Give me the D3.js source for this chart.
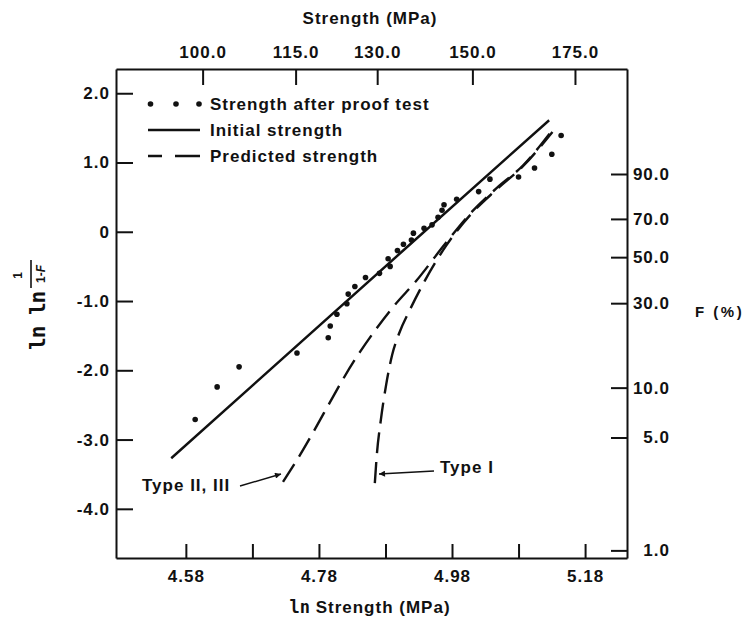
<!DOCTYPE html>
<html>
<head>
<meta charset="utf-8">
<script src="https://cdn.jsdelivr.net/npm/d3@7"></script>
<style>
  body { margin: 0; background: #fff; }
  svg text { font-family: "Liberation Sans", Arial, sans-serif; font-weight: bold; fill: #111; letter-spacing: 1px; font-size: 17px; }
  svg .mono { font-family: "DejaVu Sans Mono", monospace; font-weight: bold; letter-spacing: 0; }
</style>
</head>
<body>
<div id="chart"></div>
<script>
// Data: x = ln strength, y = ln ln 1/(1-F)
const lnTicks = [4.58, 4.68, 4.78, 4.88, 4.98, 5.08, 5.18];
const lnLabelled = [4.58, 4.78, 4.98, 5.18];
const leftTicks = [2, 1, 0, -1, -2, -3, -4];
const strengthTicks = [100, 115, 130, 150, 175];   // MPa, top axis
const fTicks = [90, 70, 50, 30, 10, 5, 1];         // F (%), right axis

const proofTest = [
    [4.594, -2.71], [4.627, -2.24], [4.660, -1.95], [4.747, -1.75],
    [4.794, -1.53], [4.797, -1.36], [4.807, -1.19], [4.822, -1.04],
    [4.824, -0.90], [4.834, -0.79], [4.850, -0.66], [4.871, -0.60],
    [4.884, -0.39], [4.887, -0.50], [4.898, -0.27], [4.907, -0.18],
    [4.919, -0.12], [4.922, -0.02], [4.938, 0.05], [4.950, 0.10],
    [4.959, 0.21], [4.965, 0.31], [4.968, 0.39], [4.987, 0.47],
    [5.020, 0.58], [5.037, 0.76], [5.080, 0.79], [5.104, 0.92],
    [5.130, 1.12], [5.144, 1.39]
];

const initialStrength = [
    [4.558, -3.27], [4.902, -0.31], [5.126, 1.61]
];

const predictedTypeII = [
    [4.726, -3.61], [4.744, -3.34], [4.842, -1.73], [4.892, -1.08],
    [4.927, -0.70], [4.970, -0.17], [5.010, 0.29], [5.047, 0.63],
    [5.087, 0.96], [5.130, 1.46]
];

const predictedTypeI = [
    [4.864, -3.63], [4.867, -3.22], [4.873, -2.72], [4.881, -2.21],
    [4.890, -1.78], [4.900, -1.48], [4.917, -1.12], [4.939, -0.71],
    [4.972, -0.19], [5.010, 0.27], [5.047, 0.61], [5.087, 0.95], [5.131, 1.44]
];

// Layout
const W = 744, H = 619;
const plot = { left: 116, right: 627, top: 69, bottom: 558 };

const svg = d3.select("#chart")
    .append("svg")
    .attr("width", W)
    .attr("height", H);

// Scales
const x = d3.scaleLinear()
    .domain([4.475, 5.243])
    .range([plot.left, plot.right]);

const y = d3.scaleLinear()
    .domain([-4.71, 2.35])
    .range([plot.bottom, plot.top]);

const fToY = f => Math.log(-Math.log(1 - f / 100));

// Axes
const bottomAxis = svg.append("g")
    .attr("transform", `translate(0,${plot.bottom})`)
    .call(d3.axisBottom(x)
        .tickValues(lnTicks)
        .tickSize(-14)
        .tickSizeOuter(0)
        .tickFormat(d => lnLabelled.includes(d) ? d.toFixed(2) : ""));
bottomAxis.selectAll("text").attr("y", 12);

const topAxis = svg.append("g")
    .attr("transform", `translate(0,${plot.top})`)
    .call(d3.axisTop(x)
        .tickValues(strengthTicks.map(Math.log))
        .tickSize(-16)
        .tickSizeOuter(0)
        .tickFormat((d, i) => strengthTicks[i].toFixed(1)));
topAxis.selectAll("text").attr("y", -11);

const leftAxis = svg.append("g")
    .attr("transform", `translate(${plot.left},0)`)
    .call(d3.axisLeft(y)
        .tickValues(leftTicks)
        .tickSize(-17)
        .tickSizeOuter(0)
        .tickFormat(d => d === 0 ? "0" : d.toFixed(1)));
leftAxis.selectAll("text").attr("x", -6);

const rightAxis = svg.append("g")
    .attr("transform", `translate(${plot.right},0)`)
    .call(d3.axisRight(y)
        .tickValues(fTicks.map(fToY))
        .tickSize(-16)
        .tickSizeOuter(0)
        .tickFormat((d, i) => fTicks[i].toFixed(1)));
rightAxis.selectAll("text")
    .attr("x", 43)
    .attr("text-anchor", "end");

svg.selectAll(".domain").attr("stroke", "#111").attr("stroke-width", 2);
svg.selectAll(".tick line").attr("stroke", "#111").attr("stroke-width", 2);
svg.selectAll(".tick text").attr("font-size", null).style("font-family", null);

// Axis titles
svg.append("text")
    .attr("x", 370)
    .attr("y", 24)
    .attr("text-anchor", "middle")
    .text("Strength (MPa)");

const xTitle = svg.append("text")
    .attr("x", 370)
    .attr("y", 613)
    .attr("text-anchor", "middle");
xTitle.append("tspan").attr("class", "mono").text("ln");
xTitle.append("tspan").text(" Strength (MPa)");

svg.append("text")
    .attr("x", 695)
    .attr("y", 317)
    .style("font-size", "15px")
    .style("letter-spacing", "2.5px")
    .text("F (%)");

// rotated left title: ln ln 1/(1-F)
const yTitle = svg.append("g")
    .attr("transform", "translate(45,350) rotate(-90)");
yTitle.append("text")
    .attr("class", "mono")
    .style("font-size", "21px")
    .style("letter-spacing", "-1px")
    .text("ln ln");
yTitle.append("line")
    .attr("x1", 62).attr("x2", 90)
    .attr("y1", -14).attr("y2", -14)
    .attr("stroke", "#111").attr("stroke-width", 1.6);
yTitle.append("text")
    .attr("x", 75).attr("y", -23)
    .attr("text-anchor", "middle")
    .style("font-size", "12px")
    .text("1");
const denom = yTitle.append("text")
    .attr("x", 76).attr("y", 0)
    .attr("text-anchor", "middle")
    .style("font-size", "12px")
    .style("letter-spacing", "0");
denom.append("tspan").text("1-");
denom.append("tspan").style("font-style", "italic").text("F");

// Lines
const solidLine = d3.line()
    .x(d => x(d[0]))
    .y(d => y(d[1]));

const curveLine = d3.line()
    .x(d => x(d[0]))
    .y(d => y(d[1]))
    .curve(d3.curveMonotoneX);

svg.append("path")
    .datum(initialStrength)
    .attr("d", solidLine)
    .attr("fill", "none")
    .attr("stroke", "#111")
    .attr("stroke-width", 2.4);

[predictedTypeII, predictedTypeI].forEach(series => {
    svg.append("path")
        .datum(series)
        .attr("d", curveLine)
        .attr("fill", "none")
        .attr("stroke", "#111")
        .attr("stroke-width", 2.4)
        .attr("stroke-dasharray", "21,9");
});

svg.selectAll(".proof")
    .data(proofTest)
    .enter()
    .append("circle")
    .attr("class", "proof")
    .attr("cx", d => x(d[0]))
    .attr("cy", d => y(d[1]))
    .attr("r", 2.8)
    .attr("fill", "#111");

// Legend
const legend = svg.append("g").attr("transform", "translate(148,0)");
[2.5, 28, 51].forEach(dx => {
    legend.append("circle").attr("cx", dx).attr("cy", 104).attr("r", 2.8).attr("fill", "#111");
});
legend.append("line")
    .attr("x1", 0).attr("x2", 52).attr("y1", 130).attr("y2", 130)
    .attr("stroke", "#111").attr("stroke-width", 2.4);
legend.append("line")
    .attr("x1", 0).attr("x2", 52).attr("y1", 156).attr("y2", 156)
    .attr("stroke", "#111").attr("stroke-width", 2.4)
    .attr("stroke-dasharray", "14,13,25");
const legendText = ["Strength after proof test", "Initial strength", "Predicted strength"];
legendText.forEach((t, i) => {
    legend.append("text")
        .attr("x", 62)
        .attr("y", 110 + i * 26)
        .text(t);
});

// Annotations
const defs = svg.append("defs");
defs.append("marker")
    .attr("id", "arrow")
    .attr("viewBox", "0 0 10 10")
    .attr("refX", 10).attr("refY", 5)
    .attr("markerWidth", 11).attr("markerHeight", 6)
    .attr("markerUnits", "userSpaceOnUse")
    .attr("orient", "auto")
    .append("path")
    .attr("d", "M0,0 L10,5 L0,10 Z")
    .attr("fill", "#111");

svg.append("text")
    .attr("x", 142).attr("y", 491)
    .text("Type II, III");
svg.append("line")
    .attr("x1", 240).attr("y1", 486).attr("x2", 281).attr("y2", 474)
    .attr("stroke", "#111").attr("stroke-width", 1.4)
    .attr("marker-end", "url(#arrow)");

svg.append("text")
    .attr("x", 440).attr("y", 473)
    .text("Type I");
svg.append("line")
    .attr("x1", 434).attr("y1", 471).attr("x2", 379).attr("y2", 474)
    .attr("stroke", "#111").attr("stroke-width", 1.4)
    .attr("marker-end", "url(#arrow)");
</script>
</body>
</html>
